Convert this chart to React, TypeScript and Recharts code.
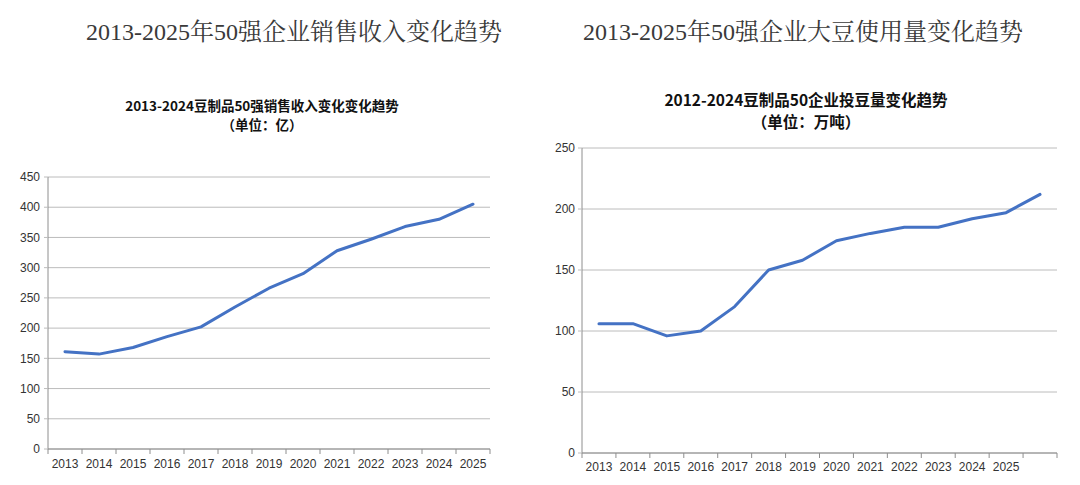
import { CartesianGrid, Line, LineChart, XAxis, YAxis } from "recharts";

const revenueYears = ["2013", "2014", "2015", "2016", "2017", "2018", "2019", "2020", "2021", "2022", "2023", "2024", "2025"];
const revenueValues = [161, 157, 168, 186, 202, 235, 266, 290, 328, 347, 368, 380, 405];
const revenueTicks = [0, 50, 100, 150, 200, 250, 300, 350, 400, 450];

const soyYears = ["2013", "2014", "2015", "2016", "2017", "2018", "2019", "2020", "2021", "2022", "2023", "2024", "2025", ""];
const soyValues = [106, 106, 96, 100, 120, 150, 158, 174, 180, 185, 185, 192, 197, 212];
const soyTicks = [0, 50, 100, 150, 200, 250];

const LINE_COLOR = "#4472C4";
const GRID_COLOR = "#bcbcbc";
const AXIS_COLOR = "#8e8e8e";
const TEXT_COLOR = "#333333";
const TICK_FONT = '"Liberation Sans", Arial, sans-serif';
const CJK_SANS = '"Noto Sans CJK SC", "Noto Sans", sans-serif';
const CJK_SERIF = '"Liberation Serif", "Noto Serif CJK SC", "Noto Sans CJK SC", serif';

type TickProps = {
  x?: number;
  y?: number;
  index?: number;
  payload?: { value: string; offset?: number; index?: number };
  half: number;
  count: number;
  labelGap: number;
};

// category label in the middle of a band, tick marks on the band edges
function BandTick({ x = 0, y = 0, index, payload, half, count, labelGap }: TickProps) {
  const off = payload && payload.offset && payload.offset > 0 ? payload.offset : half;
  const i = payload?.index ?? index ?? 0;
  return (
    <g>
      <line x1={x - off} x2={x - off} y1={y} y2={y + 5} stroke={AXIS_COLOR} />
      {i === count - 1 ? <line x1={x + off} x2={x + off} y1={y} y2={y + 5} stroke={AXIS_COLOR} /> : null}
      <text
        x={x}
        y={y + labelGap}
        dy="0.35em"
        textAnchor="middle"
        fontSize={12}
        fontFamily={TICK_FONT}
        fill={TEXT_COLOR}
      >
        {payload?.value}
      </text>
    </g>
  );
}

type ChartProps = {
  categories: string[];
  values: number[];
  ticks: number[];
  left: number;
  margin: { top: number; right: number; left: number; bottom: number };
  yWidth: number;
  xHeight: number;
  yTickMargin: number;
  labelGap: number;
};

function TrendChart({ categories, values, ticks, left, margin, yWidth, xHeight, yTickMargin, labelGap }: ChartProps) {
  const data = categories.map((year, i) => ({ year, value: values[i] }));
  const width = 540;
  const plotWidth = width - margin.left - margin.right - yWidth;
  const half = plotWidth / categories.length / 2;

  return (
    <div style={{ position: "absolute", left, top: 0 }}>
      <LineChart width={width} height={485} data={data} margin={margin}>
        <CartesianGrid stroke={GRID_COLOR} vertical={false} />
        <XAxis
          dataKey="year"
          scale="band"
          height={xHeight}
          axisLine={{ stroke: AXIS_COLOR }}
          tickLine={false}
          tickSize={0}
          tickMargin={0}
          interval={0}
          tick={(p: any) => (
            <BandTick {...p} half={half} count={categories.length} labelGap={labelGap} />
          )}
        />
        <YAxis
          width={yWidth}
          domain={[0, ticks[ticks.length - 1]]}
          ticks={ticks}
          interval={0}
          axisLine={{ stroke: AXIS_COLOR }}
          tickLine={{ stroke: GRID_COLOR }}
          tickSize={4}
          tickMargin={yTickMargin}
          tick={{ fontSize: 12, fontFamily: TICK_FONT, fill: TEXT_COLOR }}
        />
        <Line
          type="linear"
          dataKey="value"
          stroke={LINE_COLOR}
          strokeWidth={3}
          strokeLinejoin="round"
          strokeLinecap="round"
          dot={false}
          activeDot={false}
          isAnimationActive={false}
        />
      </LineChart>
    </div>
  );
}

export default function App() {
  return (
    <div
      style={{
        position: "absolute",
        left: 0,
        top: 0,
        width: 1080,
        height: 485,
        background: "#ffffff",
        overflow: "hidden"
      }}
    >
      <TrendChart
        categories={revenueYears}
        values={revenueValues}
        ticks={revenueTicks}
        left={0}
        margin={{ top: 177, right: 50, left: 0, bottom: 0 }}
        yWidth={48}
        xHeight={36}
        yTickMargin={4}
        labelGap={15}
      />
      <TrendChart
        categories={soyYears}
        values={soyValues}
        ticks={soyTicks}
        left={540}
        margin={{ top: 148, right: 23, left: 0, bottom: 0 }}
        yWidth={42}
        xHeight={32}
        yTickMargin={3}
        labelGap={14}
      />
      <svg
        width={1080}
        height={485}
        style={{ position: "absolute", left: 0, top: 0, pointerEvents: "none" }}
      >
        <text x={294} y={40} textAnchor="middle" fontSize={24} fontFamily={CJK_SERIF} fill="#3a3a3a">
          2013-2025年50强企业销售收入变化趋势
        </text>
        <text x={803} y={40} textAnchor="middle" fontSize={24} fontFamily={CJK_SERIF} fill="#3a3a3a">
          2013-2025年50强企业大豆使用量变化趋势
        </text>
        <text x={262} y={111} textAnchor="middle" fontSize={13.5} fontWeight="bold" fontFamily={CJK_SANS} fill="#111111">
          2013-2024豆制品50强销售收入变化变化趋势
        </text>
        <text x={262} y={130} textAnchor="middle" fontSize={13.5} fontWeight="bold" fontFamily={CJK_SANS} fill="#111111">
          （单位：亿）
        </text>
        <text x={806} y={106} textAnchor="middle" fontSize={15.5} fontWeight="bold" fontFamily={CJK_SANS} fill="#111111">
          2012-2024豆制品50企业投豆量变化趋势
        </text>
        <text x={806} y={128} textAnchor="middle" fontSize={15.5} fontWeight="bold" fontFamily={CJK_SANS} fill="#111111">
          （单位：万吨）
        </text>
      </svg>
    </div>
  );
}
